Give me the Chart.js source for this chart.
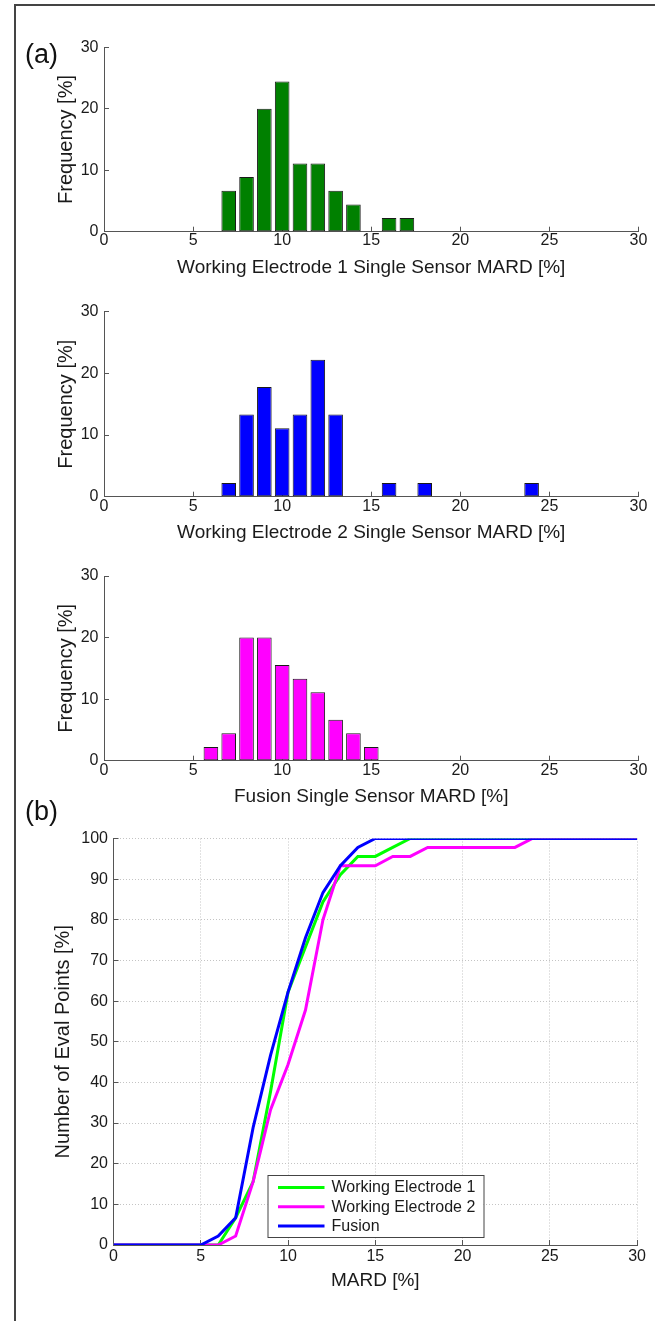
<!DOCTYPE html>
<html>
<head>
<meta charset="utf-8">
<title>Single Sensor MARD</title>
<script src="https://cdn.jsdelivr.net/npm/chart.js@4.4.1/dist/chart.umd.min.js"></script>
<style>
  html, body { margin: 0; padding: 0; background: #fff; }
  #page { position: relative; width: 655px; height: 1321px; overflow: hidden; font-family: "Liberation Sans", Arial, sans-serif; }
  #frame { position: absolute; left: 14px; top: 4px; width: 700px; height: 1400px; border-left: 2px solid #444; border-top: 2px solid #444; }
  canvas { position: absolute; left: 0; }
  .tag { position: absolute; left: 25px; font-size: 27px; line-height: 1; color: #111; }
</style>
</head>
<body>
<div id="page">
  <div id="frame"></div>
  <canvas id="histWE1"></canvas>
  <canvas id="histWE2"></canvas>
  <canvas id="histFusion"></canvas>
  <canvas id="cdfChart"></canvas>
  <div class="tag" style="top:41px">(a)</div>
  <div class="tag" style="top:798px">(b)</div>
</div>
<script>
// histogram bins (MARD %, bin centres) and frequency [%]
const we1Bins = [7, 8, 9, 10, 11, 12, 13, 14, 16, 17];
const we1Freq = [6.67, 8.89, 20, 24.44, 11.11, 11.11, 6.67, 4.44, 2.22, 2.22];

const we2Bins = [7, 8, 9, 10, 11, 12, 13, 16, 18, 24];
const we2Freq = [2.22, 13.33, 17.78, 11.11, 13.33, 22.22, 13.33, 2.22, 2.22, 2.22];

const fusionBins = [6, 7, 8, 9, 10, 11, 12, 13, 14, 15];
const fusionFreq = [2.22, 4.44, 20, 20, 15.56, 13.33, 11.11, 6.67, 4.44, 2.22];

// cumulative curves (b): MARD [%] vs number of eval points [%]
const mard = [0, 1, 2, 3, 4, 5, 6, 7, 8, 9, 10, 11, 12, 13, 14, 15, 16, 17, 18, 19, 20, 21, 22, 23, 24, 25, 26, 27, 28, 29, 30];
const cdfWE1 = [0, 0, 0, 0, 0, 0, 0, 6.7, 15.6, 37.8, 62.2, 73.3, 84.4, 91.1, 95.6, 95.6, 97.8, 100, 100, 100, 100, 100, 100, 100, 100, 100, 100, 100, 100, 100, 100];
const cdfWE2 = [0, 0, 0, 0, 0, 0, 0, 2.2, 15.6, 33.3, 44.4, 57.8, 80, 93.3, 93.3, 93.3, 95.6, 95.6, 97.8, 97.8, 97.8, 97.8, 97.8, 97.8, 100, 100, 100, 100, 100, 100, 100];
const cdfFusion = [0, 0, 0, 0, 0, 0, 2.2, 6.7, 28.9, 46.7, 62.2, 75.6, 86.7, 93.3, 97.8, 100, 100, 100, 100, 100, 100, 100, 100, 100, 100, 100, 100, 100, 100, 100, 100];

const seriesNames = ['Working Electrode 1', 'Working Electrode 2', 'Fusion'];

// colours
const barGreen = '#008000';
const barBlue = '#0000FF';
const barMagenta = '#FF00FF';
const lineColors = ['#00FF00', '#FF00FF', '#0000FF'];
const axisColor = '#555';
const gridColor = '#c4c4c4';
const textColor = '#1a1a1a';

Chart.defaults.font.family = '"Liberation Sans", Arial, sans-serif';
Chart.defaults.color = textColor;

// page geometry of each panel (canvas box + plot area)
const panels = {
  histWE1:    { top: 0,   height: 290, areaTop: 47.3,  areaBottom: 231.7, left: 104,   right: 638.5, titleY: 268,  yTitleX: 66, tickGap: 9 },
  histWE2:    { top: 290, height: 265, areaTop: 311.7, areaBottom: 496.7, left: 104,   right: 638.5, titleY: 533,  yTitleX: 66, tickGap: 10 },
  histFusion: { top: 555, height: 265, areaTop: 576,   areaBottom: 760.7, left: 104,   right: 638.5, titleY: 797,  yTitleX: 66, tickGap: 10 },
  cdfChart:   { top: 820, height: 501, areaTop: 834.3, areaBottom: 1245,  left: 113.5, right: 638,   titleY: 1281, yTitleX: 63, tickGap: 12 }
};

const tickFont = { size: 16, lineHeight: 1 };
const xTitleFont = { size: 19, lineHeight: 1 };
const yTitleFont = { size: 20, lineHeight: 1 };

function prepCanvas(id) {
  const p = panels[id];
  const cv = document.getElementById(id);
  cv.width = 655;
  cv.height = p.height;
  cv.style.top = p.top + 'px';
  return cv;
}

// scales with inward ticks, sized so the plot area lands where the reference has it
function buildScales(id, xTitle, yTitle, yMax, yStep, showGrid) {
  const p = panels[id];
  return {
    x: {
      type: 'linear', min: 0, max: 30, offset: false,
      ticks: { stepSize: 5, padding: p.tickGap - 3, font: tickFont, color: textColor, maxRotation: 0, autoSkip: false },
      grid: { offset: false, drawOnChartArea: showGrid, color: gridColor, tickColor: axisColor, tickLength: -5, tickWidth: 1 },
      border: { color: axisColor, width: 1, dash: [1, 2] },
      title: { display: true, text: xTitle, font: xTitleFont, color: textColor,
               padding: { top: 0, bottom: (p.top + p.height) - p.titleY - xTitleFont.size / 2 } },
      afterFit: s => { s.height = (p.top + p.height) - p.areaBottom; }
    },
    y: {
      min: 0, max: yMax,
      ticks: { stepSize: yStep, padding: 10.5, font: tickFont, color: textColor },
      grid: { offset: false, drawOnChartArea: showGrid, color: gridColor, tickColor: axisColor, tickLength: -5, tickWidth: 1 },
      border: { color: axisColor, width: 1, dash: [1, 2] },
      title: { display: true, text: yTitle, font: yTitleFont, color: textColor,
               padding: { top: p.yTitleX - yTitleFont.size / 2, bottom: 0 } },
      afterFit: s => { s.width = p.left; }
    }
  };
}

function layoutFor(id) {
  const p = panels[id];
  return { padding: { left: 0, right: 655 - p.right, top: p.areaTop - p.top, bottom: 0 } };
}

function histogram(id, bins, freq, color, xTitle) {
  const cv = prepCanvas(id);
  return new Chart(cv, {
    type: 'bar',
    data: {
      datasets: [{
        data: bins.map((b, i) => ({ x: b, y: freq[i] })),
        backgroundColor: color,
        borderColor: '#1a1a1a',
        borderWidth: 1,
        borderSkipped: false,
        barPercentage: 0.82,
        categoryPercentage: 1
      }]
    },
    options: {
      responsive: false,
      animation: false,
      layout: layoutFor(id),
      plugins: { legend: { display: false }, tooltip: { enabled: false } },
      scales: buildScales(id, xTitle, 'Frequency [%]', 30, 10, false)
    }
  });
}

histogram('histWE1', we1Bins, we1Freq, barGreen, 'Working Electrode 1 Single Sensor MARD [%]');
histogram('histWE2', we2Bins, we2Freq, barBlue, 'Working Electrode 2 Single Sensor MARD [%]');
histogram('histFusion', fusionBins, fusionFreq, barMagenta, 'Fusion Single Sensor MARD [%]');

// legend box drawn inside the plot, like the MATLAB one
const boxLegend = {
  id: 'boxLegend',
  afterDraw(chart) {
    const p = panels.cdfChart;
    const ctx = chart.ctx;
    const x0 = 267.5, y0 = 1175 - p.top, w = 216, h = 62;
    ctx.save();
    ctx.fillStyle = '#fff';
    ctx.fillRect(x0, y0, w, h);
    ctx.strokeStyle = '#444';
    ctx.lineWidth = 1;
    ctx.strokeRect(x0 + 0.5, y0 + 0.5, w, h);
    ctx.font = '16px "Liberation Sans", Arial, sans-serif';
    ctx.textBaseline = 'middle';
    chart.data.datasets.forEach((ds, i) => {
      const y = y0 + 12.5 + i * 19.2;
      ctx.strokeStyle = ds.borderColor;
      ctx.lineWidth = 3;
      ctx.beginPath();
      ctx.moveTo(278, y);
      ctx.lineTo(324.5, y);
      ctx.stroke();
      ctx.fillStyle = textColor;
      ctx.fillText(ds.label, 331.5, y + 0.5);
    });
    ctx.restore();
  }
};

const cdfSeries = [cdfWE1, cdfWE2, cdfFusion];
const cdfCanvas = prepCanvas('cdfChart');
new Chart(cdfCanvas, {
  type: 'line',
  data: {
    datasets: cdfSeries.map((vals, i) => ({
      label: seriesNames[i],
      data: mard.map((m, j) => ({ x: m, y: vals[j] })),
      borderColor: lineColors[i],
      backgroundColor: lineColors[i],
      borderWidth: 3,
      pointRadius: 0,
      tension: 0,
      fill: false,
      order: 3 - i   // fusion drawn on top
    }))
  },
  options: {
    responsive: false,
    animation: false,
    layout: layoutFor('cdfChart'),
    plugins: { legend: { display: false }, tooltip: { enabled: false } },
    scales: buildScales('cdfChart', 'MARD [%]', 'Number of Eval Points [%]', 100, 10, true)
  },
  plugins: [boxLegend]
});
</script>
</body>
</html>
